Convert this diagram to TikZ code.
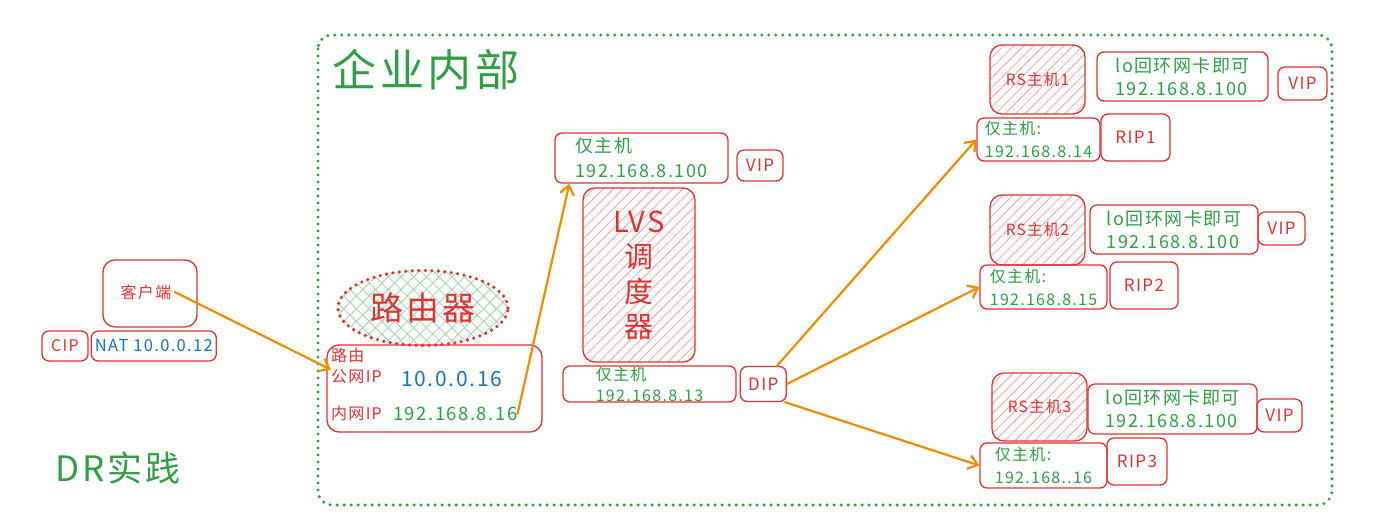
\documentclass[tikz,border=0pt]{standalone}
\usepackage{fontspec}
\setmainfont{Noto Sans CJK SC}[LetterSpace=8]
\usetikzlibrary{arrows.meta, positioning, patterns.meta, shapes.geometric}
\definecolor{exred}{HTML}{E03131}
\definecolor{exgreen}{HTML}{2F9E44}
\definecolor{exblue}{HTML}{1971C2}
\definecolor{exorange}{HTML}{F08C00}
\newcommand{\fsz}[2]{\fontsize{#1}{#2}\selectfont}

\begin{document}
\begin{tikzpicture}[
  x=1pt, y=-1pt,
  box/.style={draw=exred, line width=1.3pt, rounded corners=7pt, inner sep=0pt},
  hatched/.style={box, rounded corners=12pt,
    pattern={Lines[angle=45, distance=7pt, line width=0.8pt]}, pattern color=exred!45},
  crossed/.style={preaction={pattern={Lines[angle=45, distance=9pt, line width=0.8pt]},
      pattern color=exgreen!45},
    pattern={Lines[angle=-45, distance=9pt, line width=0.8pt]}, pattern color=exgreen!45},
  dotline/.style={postaction={draw=exred, line width=3.6pt, dash pattern=on 0pt off 6.5pt,
      line cap=round}},
  hostlbl/.style={box, align=left, text=exgreen, font=\fsz{16}{23}},
  tag/.style={box, text=exred, font=\fsz{17}{18}},
  rslbl/.style={hatched, minimum width=95pt, text=exred, font=\fsz{15.5}{17}},
  flow/.style={draw=exorange, line width=2.2pt, line cap=round,
    -{Straight Barb[length=9pt, width=14pt, line width=2.2pt]}},
  node distance=2pt
]
\useasboundingbox (0,0) rectangle (1375,525);

% enterprise frame
\draw[exgreen, line width=3.4pt, dash pattern=on 0pt off 7pt, line cap=round,
  rounded corners=14pt] (318,35) rectangle (1332,505);
\node[anchor=west, text=exgreen, font=\fsz{44}{48}] (title) at (329,70) {企业内部};

% client side
\node[box, rounded corners=12pt, minimum width=94pt, minimum height=67pt] (client) at (150,293.5) {};
\node[text=exred, font=\fsz{16}{18}] (clienttxt) at (146,292) {客户端};
\node[tag, minimum width=46pt, minimum height=30pt, font=\fsz{16}{18}] (cip) at (65,346) {CIP};
\node[box, right=2pt of cip, minimum width=125pt, minimum height=30pt,
  text=exblue, font=\fsz{16.5}{18}] (nat) {NAT 10.0.0.12};
\node[text=exgreen, font=\fsz{35}{38}] (drtxt) at (118,468) {DR实践};

% router
\node[ellipse, crossed, dotline, minimum width=170pt, minimum height=75pt, inner sep=0pt,
  text=exred, font=\fsz{33}{35}] (router) at (423,308) {路由器};
\node[box, rounded corners=12pt, minimum width=215pt, minimum height=87pt] (rtbox) at (434.5,388.5) {};
\node[anchor=west, inner sep=0pt, text=exred, font=\fsz{16}{18}] (rtname) at (331,355) {路由};
\node[anchor=west, inner sep=0pt, text=exred, font=\fsz{16}{18}] (pubip) at (331,377) {公网IP};
\node[anchor=west, inner sep=0pt, text=exblue, font=\fsz{21}{24}] (pubaddr) at (401,379) {10.0.0.16};
\node[anchor=west, inner sep=0pt, text=exred, font=\fsz{16}{18}] (lanip) at (331,413) {内网IP};
\node[anchor=west, inner sep=0pt, text=exgreen, font=\fsz{18.5}{20}] (lanaddr) at (393,414) {192.168.8.16};

% LVS director
\node[hostlbl, font=\fsz{18}{25}, minimum width=173pt, minimum height=50pt] (vhost) at (641.5,158) {仅主机\\192.168.8.100};
\node[tag, minimum width=46pt, minimum height=31pt] (vip0) at (760,165.5) {VIP};
\node[hatched, minimum width=112pt, minimum height=174pt, align=center,
  text=exred, font=\fsz{29}{35}] (lvs) at (639,275) {LVS\\调\\度\\器};
\node[hostlbl, font=\fsz{16}{21}, minimum width=173pt, minimum height=36pt] (dhost) at (649.5,384) {仅主机\\192.168.8.13};
\node[tag, right=3pt of dhost, minimum width=46pt, minimum height=35pt] (dip) {DIP};

% real server 1
\node[rslbl, minimum height=69pt] (rs1) at (1037.5,79.5) {RS主机1};
\node[hostlbl, font=\fsz{18}{23}, minimum width=171pt, minimum height=49pt] (lo1) at (1182.5,76.5) {lo回环网卡即可\\192.168.8.100};
\node[tag, minimum width=49pt, minimum height=33pt] (vip1) at (1302.5,83.5) {VIP};
\node[hostlbl, minimum width=123pt, minimum height=43pt] (host1) at (1038.5,139.5) {仅主机:\\192.168.8.14};
\node[tag, minimum width=69pt, minimum height=47pt] (rip1) at (1135.5,137.5) {RIP1};

% real server 2
\node[rslbl, minimum height=70pt] (rs2) at (1037.5,230) {RS主机2};
\node[hostlbl, font=\fsz{18}{23}, minimum width=168pt, minimum height=49pt] (lo2) at (1174,229.5) {lo回环网卡即可\\192.168.8.100};
\node[tag, minimum width=47pt, minimum height=33pt] (vip2) at (1281.5,228.5) {VIP};
\node[hostlbl, minimum width=127pt, minimum height=44pt] (host2) at (1043.5,287) {仅主机:\\192.168.8.15};
\node[tag, minimum width=68pt, minimum height=47pt] (rip2) at (1144,285.5) {RIP2};

% real server 3
\node[rslbl, minimum height=68pt] (rs3) at (1039.5,407) {RS主机3};
\node[hostlbl, font=\fsz{18}{23}, minimum width=169pt, minimum height=50pt] (lo3) at (1172.5,409) {lo回环网卡即可\\192.168.8.100};
\node[tag, minimum width=45pt, minimum height=33pt] (vip3) at (1279.5,415.5) {VIP};
\node[hostlbl, minimum width=127pt, minimum height=45pt] (host3) at (1043.5,465.5) {仅主机:\\192.168..16};
\node[tag, minimum width=60pt, minimum height=47pt] (rip3) at (1137,461.5) {RIP3};

% packet flow
\draw[flow] (clienttxt.east) -- (pubip.north west);
\draw[flow] (lanaddr.east) -- ([xshift=15pt]vhost.south west);
\draw[flow] ([xshift=-10pt]dip.north east) -- (host1.west);
\draw[flow] (dip.east) -- (host2.west);
\draw[flow] ([xshift=-2pt]dip.south east) -- (host3.west);
\end{tikzpicture}
\end{document}
